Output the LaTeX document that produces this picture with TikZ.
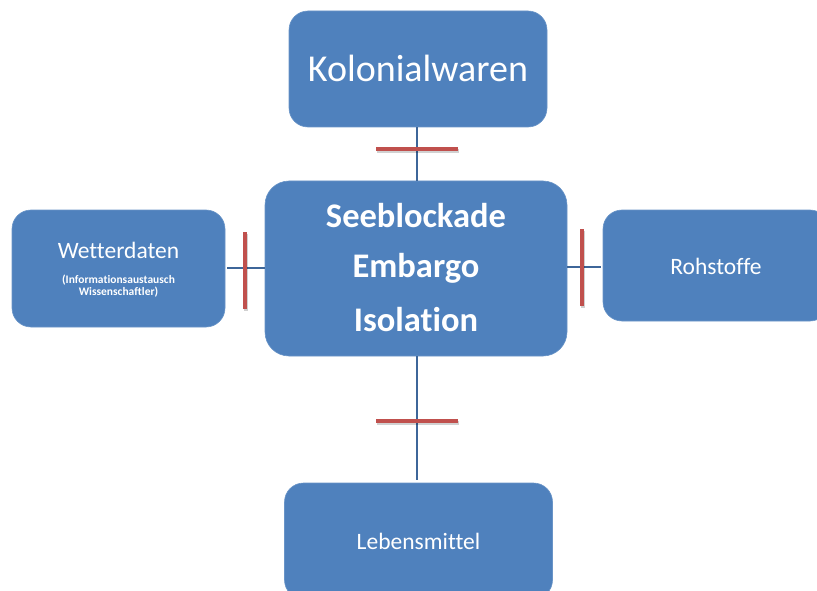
\documentclass[tikz,border=0pt]{standalone}
\usepackage{fontspec}
\setmainfont{Carlito}[RawFeature={-liga}]
\definecolor{boxblue}{HTML}{4F81BD}
\definecolor{linkblue}{HTML}{3D6699}
\definecolor{barred}{HTML}{C0504D}
\begin{document}
\begin{tikzpicture}[x=1pt,y=-1pt,
  box/.style={fill=boxblue,draw=boxblue!85!white,line width=0.6pt,rounded corners=19pt,text=white,align=center,inner sep=0pt},
  link/.style={draw=linkblue,line width=1.8pt},
  bar/.style={draw=barred,line width=3.4pt},
  barshadow/.style={draw=black,opacity=0.18,line width=3.4pt}]
\useasboundingbox (0,0) rectangle (817,591);
\clip (0,0) rectangle (817,591);
% boxes
\node[box,minimum width=258pt,minimum height=116pt] (kol) at (418,69) {};
\node[text=white,font=\fontsize{38}{40}\selectfont] (kolt) at (418,68) {Kolonialwaren};
\node[box,minimum width=302pt,minimum height=175pt,rounded corners=24pt] (ctr) at (416,268.5) {};
\node[text=white,font=\bfseries\fontsize{34.5}{36}\selectfont] (c1) at (416,216) {Seeblockade};
\node[text=white,font=\bfseries\fontsize{34.5}{36}\selectfont] (c2) at (416,268.5) {Embargo};
\node[text=white,font=\bfseries\fontsize{34.5}{36}\selectfont] (c3) at (416,320) {Isolation};
\node[box,minimum width=213pt,minimum height=117pt] (wet) at (118.5,268.5) {};
\node[text=white,font=\fontsize{23.5}{25}\selectfont] (wett) at (118.5,250) {Wetterdaten};
\node[text=white,font=\bfseries\fontsize{11.5}{12.5}\selectfont,align=center] (wets) at (118.5,286) {(Informationsaustausch\\Wissenschaftler)};
\node[box,minimum width=226pt,minimum height=111pt] (roh) at (716,265.5) {};
\node[text=white,font=\fontsize{23.5}{25}\selectfont] (roht) at (716,266) {Rohstoffe};
\node[box,minimum width=268pt,minimum height=116pt] (leb) at (418.5,541) {};
\node[text=white,font=\fontsize{23.5}{25}\selectfont] (lebt) at (418.5,541) {Lebensmittel};
% connectors
\coordinate (topa) at (417,127.5);
\coordinate (topb) at (417,181);
\draw[link] (topa) -- (topb);
\coordinate (bota) at (417,356);
\coordinate (botb) at (417,480);
\draw[link] (bota) -- (botb);
\coordinate (lefa) at (227,268);
\coordinate (lefb) at (265,268);
\draw[link] (lefa) -- (lefb);
\coordinate (riga) at (567,267);
\coordinate (rigb) at (601,267);
\draw[link] (riga) -- (rigb);
% red bars
\coordinate (b1a) at (376,149); \coordinate (b1b) at (458,149);
\coordinate (b2a) at (376,421); \coordinate (b2b) at (458,421);
\coordinate (b3a) at (245,232); \coordinate (b3b) at (245,309);
\coordinate (b4a) at (582,229); \coordinate (b4b) at (582,306);
\foreach \a/\b in {b1a/b1b,b2a/b2b,b3a/b3b,b4a/b4b}{
  \draw[barshadow] ([shift={(1,2)}]\a) -- ([shift={(1,2)}]\b);
  \draw[bar] (\a) -- (\b);
}
\end{tikzpicture}
\end{document}
